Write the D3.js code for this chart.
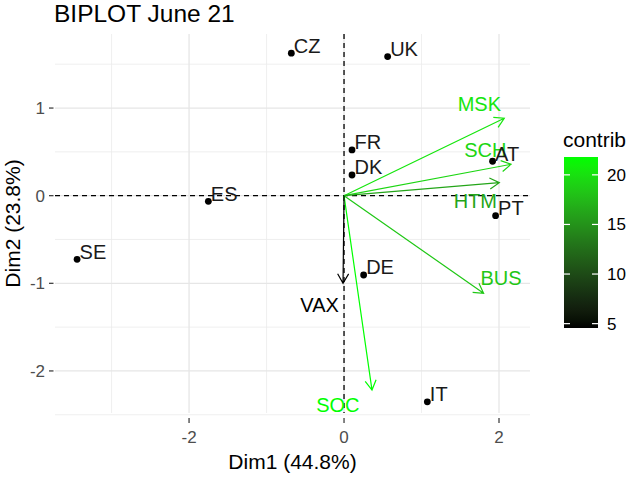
<!DOCTYPE html>
<html>
<head>
<meta charset="utf-8">
<script src="https://cdn.jsdelivr.net/npm/d3@7"></script>
<style>
  body { margin: 0; background: #fff; }
  text { font-family: "Liberation Sans", Arial, sans-serif; }
</style>
</head>
<body>
<svg id="chart" width="629" height="477"></svg>
<script>
// individuals (countries)
const indNames = ["CZ", "UK", "FR", "DK", "AT", "PT", "ES", "SE", "DE", "IT"];
const indDim1 = [-0.68, 0.563, 0.103, 0.103, 1.917, 1.956, -1.751, -3.445, 0.253, 1.075];
const indDim2 = [1.626, 1.587, 0.522, 0.236, 0.393, -0.228, -0.064, -0.726, -0.905, -2.352];

// variables (arrows)
const varNames = ["MSK", "SCH", "HTM", "BUS", "SOC", "VAX"];
const varDim1 = [2.068, 2.155, 2.004, 1.801, 0.361, -0.013];
const varDim2 = [0.884, 0.358, 0.148, -1.114, -2.218, -1.0];
const varContrib = [20.3, 19.3, 16.2, 18.4, 21.8, 4.56];
const varLabelDim1 = [1.746, 1.823, 1.694, 2.027, -0.08, -0.315];
const varLabelDim2 = [0.967, 0.445, -0.137, -1.019, -2.466, -1.324];

const xTicks = [-2, 0, 2];
const yTicks = [-2, -1, 0, 1];
const xMinor = [-3, -1, 1];
const yMinor = [-2.5, -1.5, -0.5, 0.5, 1.5];
const legendTicks = [5, 10, 15, 20];

const titleText = "BIPLOT June 21";
const xTitle = "Dim1 (44.8%)";
const yTitle = "Dim2 (23.8%)";

const svg = d3.select("#chart");

const panel = { left: 55, right: 530, top: 34, bottom: 413 };

const x = d3.scaleLinear().domain([-3.73, 2.40]).range([panel.left, panel.right]);
const y = d3.scaleLinear().domain([-2.48, 1.845]).range([panel.bottom, panel.top]);

const contribDomain = [4.56, 21.8];
const color = d3.scaleLinear().domain(contribDomain).range(["#000000", "#00ff00"])
  .interpolate(d3.interpolateLab);

// grid
const grid = svg.append("g");
grid.selectAll(".minx").data(xMinor).join("line")
  .attr("x1", d => x(d)).attr("x2", d => x(d))
  .attr("y1", panel.top).attr("y2", panel.bottom)
  .attr("stroke", "#ebebeb").attr("stroke-width", 0.8);
grid.selectAll(".miny").data(yMinor).join("line")
  .attr("y1", d => y(d)).attr("y2", d => y(d))
  .attr("x1", panel.left).attr("x2", panel.right)
  .attr("stroke", "#ebebeb").attr("stroke-width", 0.8);
grid.selectAll(".majx").data(xTicks).join("line")
  .attr("x1", d => x(d)).attr("x2", d => x(d))
  .attr("y1", panel.top).attr("y2", panel.bottom)
  .attr("stroke", "#e6e6e6").attr("stroke-width", 1.3);
grid.selectAll(".majy").data(yTicks).join("line")
  .attr("y1", d => y(d)).attr("y2", d => y(d))
  .attr("x1", panel.left).attr("x2", panel.right)
  .attr("stroke", "#e6e6e6").attr("stroke-width", 1.3);

// dashed zero lines
svg.append("line")
  .attr("x1", panel.left).attr("x2", panel.right)
  .attr("y1", y(0)).attr("y2", y(0))
  .attr("stroke", "#000").attr("stroke-width", 1.3).attr("stroke-dasharray", "5,4");
svg.append("line")
  .attr("x1", x(0)).attr("x2", x(0))
  .attr("y1", panel.top).attr("y2", panel.bottom)
  .attr("stroke", "#000").attr("stroke-width", 1.3).attr("stroke-dasharray", "5,4");

// axes ticks + labels
svg.selectAll(".xt").data(xTicks).join("line")
  .attr("x1", d => x(d)).attr("x2", d => x(d))
  .attr("y1", 418).attr("y2", 423)
  .attr("stroke", "#333").attr("stroke-width", 1.2);
svg.selectAll(".xl").data(xTicks).join("text")
  .attr("x", d => x(d)).attr("y", 443)
  .attr("text-anchor", "middle").attr("font-size", 17).attr("fill", "#4d4d4d")
  .text(d => d);
svg.selectAll(".yt").data(yTicks).join("line")
  .attr("x1", 49).attr("x2", 53.5)
  .attr("y1", d => y(d)).attr("y2", d => y(d))
  .attr("stroke", "#333").attr("stroke-width", 1.2);
svg.selectAll(".yl").data(yTicks).join("text")
  .attr("x", 45).attr("y", d => y(d) + 6)
  .attr("text-anchor", "end").attr("font-size", 17).attr("fill", "#4d4d4d")
  .text(d => d);

svg.append("text")
  .attr("x", (panel.left + panel.right) / 2).attr("y", 469)
  .attr("text-anchor", "middle").attr("font-size", 21).attr("fill", "#000")
  .text(xTitle);
svg.append("text")
  .attr("transform", `translate(20,${(panel.top + panel.bottom) / 2}) rotate(-90)`)
  .attr("text-anchor", "middle").attr("font-size", 21).attr("fill", "#000")
  .text(yTitle);

svg.append("text")
  .attr("x", 54).attr("y", 21.5)
  .attr("font-size", 24.5).attr("fill", "#000")
  .text(titleText);

// variable arrows
const vars = varNames.map((n, i) => ({
  name: n, d1: varDim1[i], d2: varDim2[i], contrib: varContrib[i],
  l1: varLabelDim1[i], l2: varLabelDim2[i]
}));

const arrowPath = d => {
  const x0 = x(0), y0 = y(0), x1 = x(d.d1), y1 = y(d.d2);
  const ang = Math.atan2(y1 - y0, x1 - x0);
  const len = 11, spread = Math.PI / 6;
  const ax = x1 - len * Math.cos(ang - spread), ay = y1 - len * Math.sin(ang - spread);
  const bx = x1 - len * Math.cos(ang + spread), by = y1 - len * Math.sin(ang + spread);
  return `M${x0},${y0}L${x1},${y1}M${ax},${ay}L${x1},${y1}L${bx},${by}`;
};

svg.append("g").selectAll("path").data(vars).join("path")
  .attr("d", arrowPath)
  .attr("fill", "none")
  .attr("stroke", d => color(d.contrib))
  .attr("stroke-width", 1.2);

svg.append("g").selectAll("text").data(vars).join("text")
  .attr("x", d => x(d.l1)).attr("y", d => y(d.l2))
  .attr("text-anchor", "middle").attr("font-size", 20)
  .attr("fill", d => color(d.contrib))
  .text(d => d.name);

// individuals
const inds = indNames.map((n, i) => ({ name: n, d1: indDim1[i], d2: indDim2[i] }));
svg.append("g").selectAll("circle").data(inds).join("circle")
  .attr("cx", d => x(d.d1)).attr("cy", d => y(d.d2)).attr("r", 3.4)
  .attr("fill", "#000");
svg.append("g").selectAll("text").data(inds).join("text")
  .attr("x", d => x(d.d1) + 2.5).attr("y", d => y(d.d2) - 0.5)
  .attr("font-size", 20).attr("fill", "#1a1a1a")
  .text(d => d.name);

// legend
const leg = { x: 564, w: 34, top: 157, bottom: 328 };
const ly = d3.scaleLinear().domain(contribDomain).range([leg.bottom, leg.top]);
const grad = svg.append("defs").append("linearGradient")
  .attr("id", "cgrad").attr("x1", 0).attr("x2", 0).attr("y1", 1).attr("y2", 0);
d3.range(0, 1.0001, 0.05).forEach(t => {
  grad.append("stop").attr("offset", t)
    .attr("stop-color", color(contribDomain[0] + t * (contribDomain[1] - contribDomain[0])));
});
svg.append("rect")
  .attr("x", leg.x).attr("y", leg.top).attr("width", leg.w).attr("height", leg.bottom - leg.top)
  .attr("fill", "url(#cgrad)");
svg.selectAll(".lt1").data(legendTicks).join("line")
  .attr("x1", leg.x).attr("x2", leg.x + 6)
  .attr("y1", d => ly(d)).attr("y2", d => ly(d))
  .attr("stroke", "#fff").attr("stroke-width", 1.2);
svg.selectAll(".lt2").data(legendTicks).join("line")
  .attr("x1", leg.x + leg.w - 6).attr("x2", leg.x + leg.w)
  .attr("y1", d => ly(d)).attr("y2", d => ly(d))
  .attr("stroke", "#fff").attr("stroke-width", 1.2);
svg.selectAll(".ll").data(legendTicks).join("text")
  .attr("x", 607).attr("y", d => ly(d) + 6)
  .attr("font-size", 17).attr("fill", "#000")
  .text(d => d);
svg.append("text")
  .attr("x", 563).attr("y", 147)
  .attr("font-size", 21).attr("fill", "#000")
  .text("contrib");
</script>
</body>
</html>
